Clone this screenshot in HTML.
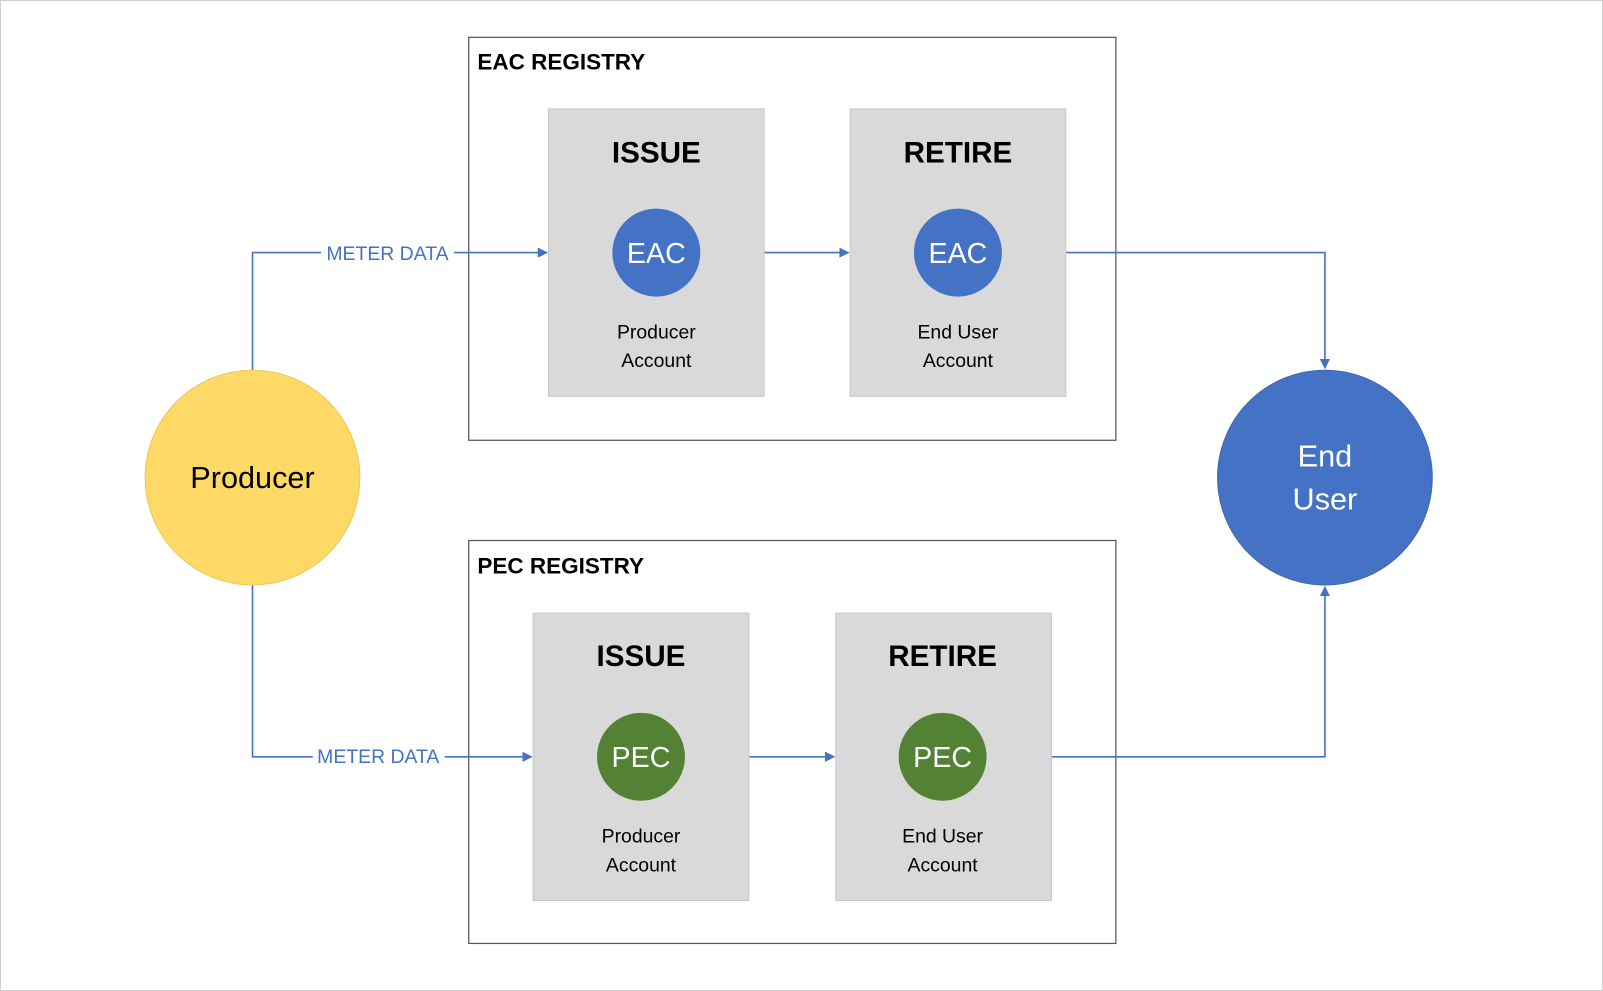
<!DOCTYPE html>
<html><head><style>html,body{margin:0;padding:0;background:#fff}svg{display:block}</style></head><body>
<svg width="1603" height="991" viewBox="0 0 1568 969" preserveAspectRatio="none" xmlns="http://www.w3.org/2000/svg" font-family="'Liberation Sans', sans-serif">
<defs><marker id="a" markerWidth="10" markerHeight="10" refX="9" refY="5" orient="auto" markerUnits="userSpaceOnUse"><path d="M0,0 L10,5 L0,10z" fill="#4472C4"/></marker></defs>
<rect x="0.5" y="0.5" width="1567" height="968" fill="#fff" stroke="#d0d0d0"/>
<!-- registries -->
<rect x="458.5" y="36.5" width="633" height="394" fill="#fff" stroke="#555" stroke-width="1.2"/>
<text x="467" y="68" font-size="22" font-weight="bold">EAC REGISTRY</text>
<rect x="458.5" y="528.5" width="633" height="394" fill="#fff" stroke="#555" stroke-width="1.2"/>
<text x="467" y="561" font-size="22" font-weight="bold">PEC REGISTRY</text>
<!-- boxes -->
<g fill="#d9d9d9" stroke="#c8c8c8">
<rect x="536.5" y="106.5" width="211" height="281"/>
<rect x="831.5" y="106.5" width="211" height="281"/>
<rect x="521.5" y="599.5" width="211" height="281"/>
<rect x="817.5" y="599.5" width="211" height="281"/>
</g>
<g font-size="29" font-weight="bold" text-anchor="middle">
<text x="642" y="159">ISSUE</text><text x="937" y="159">RETIRE</text>
<text x="627" y="651">ISSUE</text><text x="922" y="651">RETIRE</text>
</g>
<circle cx="642" cy="247" r="43" fill="#4472C4"/><circle cx="937" cy="247" r="43" fill="#4472C4"/>
<circle cx="627" cy="740" r="43" fill="#548235"/><circle cx="922" cy="740" r="43" fill="#548235"/>
<g font-size="28" fill="#fff" text-anchor="middle">
<text x="642" y="257">EAC</text><text x="937" y="257">EAC</text>
<text x="627" y="750">PEC</text><text x="922" y="750">PEC</text>
</g>
<g font-size="19" text-anchor="middle">
<text x="642" y="331">Producer</text><text x="642" y="359">Account</text>
<text x="937" y="331">End User</text><text x="937" y="359">Account</text>
<text x="627" y="824">Producer</text><text x="627" y="852">Account</text>
<text x="922" y="824">End User</text><text x="922" y="852">Account</text>
</g>
<!-- connectors -->
<g stroke="#4472C4" stroke-width="1.6" fill="none">
<path d="M247,362 V247 H314"/><path d="M444,247 H535" marker-end="url(#a)"/>
<path d="M247,572 V740 H306"/><path d="M435,740 H520" marker-end="url(#a)"/>
<path d="M748,247 H830" marker-end="url(#a)"/>
<path d="M733,740 H816" marker-end="url(#a)"/>
<path d="M1043,247 H1296 V360" marker-end="url(#a)"/>
<path d="M1029,740 H1296 V574" marker-end="url(#a)"/>
</g>
<g font-size="19" fill="#4472C4" text-anchor="middle">
<text x="379" y="254">METER DATA</text><text x="370" y="746">METER DATA</text>
</g>
<circle cx="247" cy="467" r="105" fill="#FFD966" stroke="#e8c85a"/>
<text x="247" y="477" font-size="30" text-anchor="middle">Producer</text>
<circle cx="1296" cy="467" r="105" fill="#4472C4" stroke="#3f67b0"/>
<text x="1296" y="456" font-size="30" fill="#fff" text-anchor="middle">End</text>
<text x="1296" y="498" font-size="30" fill="#fff" text-anchor="middle">User</text>
</svg>
</body></html>
